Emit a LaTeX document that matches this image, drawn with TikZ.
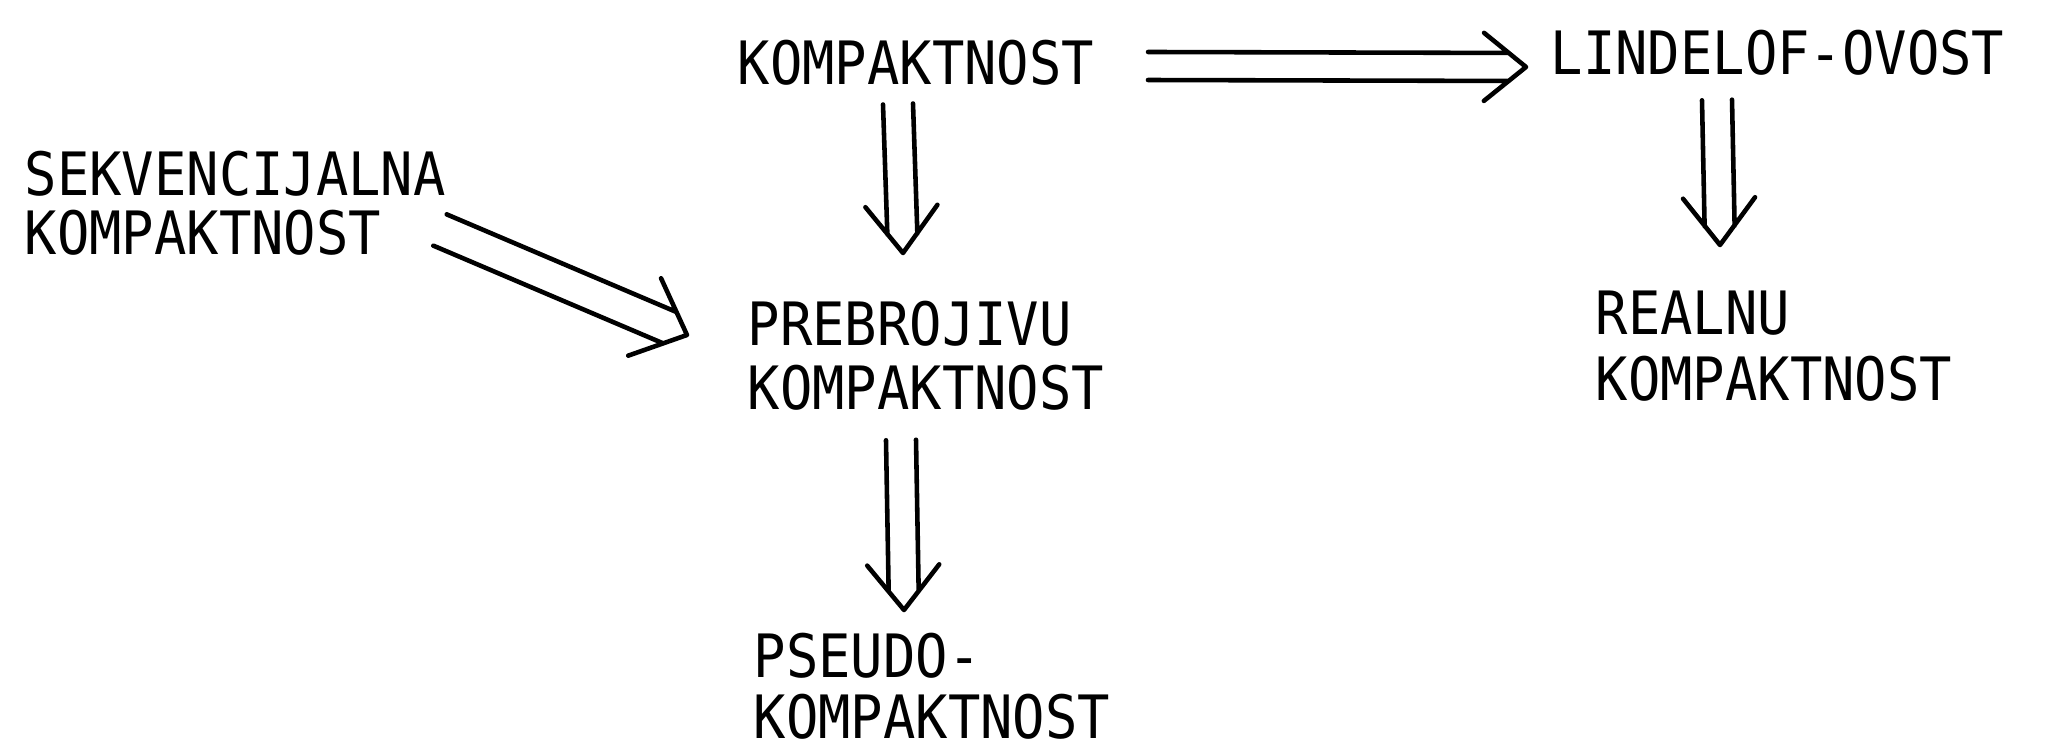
\documentclass[tikz,border=0pt]{standalone}
\usepackage{fontspec}
\newfontfamily\typefont[FakeStretch=0.9]{DejaVu Sans Mono}
\usetikzlibrary{calc}
\begin{document}
\begin{tikzpicture}[x=0.01cm,y=-0.01cm,
  lbl/.style={anchor=north west, inner sep=0pt, align=left,
    font=\typefont\fontsize{17}{18.2}\selectfont},
  lsp/.style={font=\typefont\fontsize{17}{#1}\selectfont},
  dh/.store in=\dh, dw/.store in=\dw, dl/.store in=\dl, dd/.store in=\dd,
  dh=0.15cm, dw=0.36cm, dl=0.47cm, dd=0.19cm,
  dimp/.style={line width=1.3pt, line cap=round, line join=round, to path={
    let \p1=(\tikztostart), \p2=(\tikztotarget), \n1={atan2(\y2-\y1,\x2-\x1)} in
    ($(\p1)+(\n1+90:\dh)$) -- ($(\p2)+(\n1+180:\dd)+(\n1+90:\dh)$)
    ($(\p1)+(\n1-90:\dh)$) -- ($(\p2)+(\n1+180:\dd)+(\n1-90:\dh)$)
    ($(\p2)+(\n1+180:\dl)+(\n1+90:\dw)$) -- (\p2) -- ($(\p2)+(\n1+180:\dl)+(\n1-90:\dw)$)
  }}]
\useasboundingbox (0,0) rectangle (2054,752);

\node[lbl] (kt) at (737,39) {KOMPAKTNOST};
\node[lbl] (lin) at (1550,29) {LINDELOF-OVOST};
\node[lbl, lsp=16.8] (sek) at (24,150) {SEKVENCIJALNA\\KOMPAKTNOST};
\node[lbl, lsp=18.2] (preb) at (747,300) {PREBROJIVU\\KOMPAKTNOST};
\node[lbl, lsp=17.6] (pseudo) at (753,632) {PSEUDO-\\KOMPAKTNOST};
\node[lbl, lsp=18.8] (real) at (1595,290) {REALNU\\KOMPAKTNOST};

\coordinate (h1s) at (1148,66);  \coordinate (h1t) at (1526,67);
\coordinate (v1s) at (898,104);  \coordinate (v1t) at (903,253);
\coordinate (v2s) at (901,440);  \coordinate (v2t) at (904,610);
\coordinate (v3s) at (1717,100); \coordinate (v3t) at (1720,245);
\coordinate (d1s) at (440,230);  \coordinate (d1t) at (687,335);

\draw[dimp, dh=0.14cm, dl=0.42cm, dw=0.34cm, dd=0.17cm] (h1s) to (h1t);
\draw[dimp] (v1s) to (v1t);
\draw[dimp, dl=0.45cm] (v2s) to (v2t);
\draw[dimp] (v3s) to (v3t);
\draw[dimp, dh=0.17cm, dl=0.46cm, dw=0.42cm, dd=0.19cm] (d1s) to (d1t);
\end{tikzpicture}
\end{document}
